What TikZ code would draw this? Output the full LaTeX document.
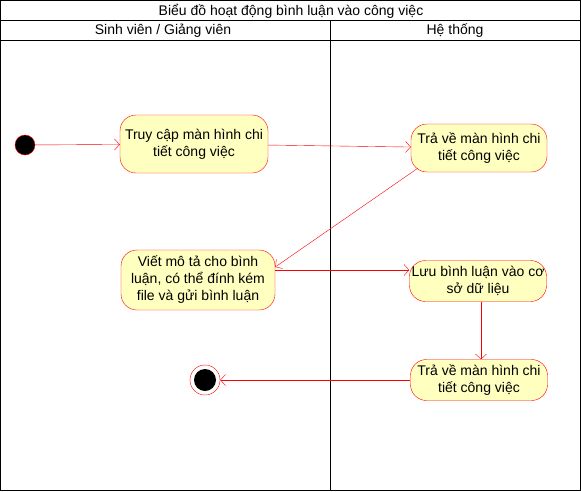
\documentclass[tikz,border=0pt]{standalone}
\usepackage{fontspec}
\setmainfont{Liberation Sans}
\usetikzlibrary{arrows.meta,positioning}
\definecolor{actred}{RGB}{255,0,0}
\definecolor{actfill}{RGB}{255,255,192}

\begin{document}
\begin{tikzpicture}[x=1pt, y=-1pt,
  font=\fontsize{14}{17}\selectfont,
  activity/.style={draw=actred, fill=actfill, rounded corners=16pt, align=center, inner sep=0pt},
  flow/.style={draw=actred, -{Straight Barb[length=5pt,width=11pt]}},
  lane/.style={draw=black, line width=0.8pt}]
\useasboundingbox (0,0) rectangle (581,491);

% swimlanes
\draw[lane] (0.5,0.5) rectangle (580.5,490.5);
\draw[lane] (0.5,20.5) -- (580.5,20.5);
\draw[lane] (0.5,40.5) -- (580.5,40.5);
\draw[lane] (330.5,20.5) -- (330.5,490.5);
\node (title) at (291,11) {Biểu đồ hoạt động bình luận vào công việc};
\node (laneA) at (163,31) {Sinh viên / Giảng viên};
\node (laneB) at (455,31) {Hệ thống};

% activities
\node[circle, draw=actred, fill=black, minimum size=20pt, inner sep=0pt] (start) at (25,145) {};
\node[activity, minimum width=148pt, minimum height=58pt] (access) at (194,144) {Truy cập màn hình chi\\tiết công việc};
\node[activity, minimum width=136pt, minimum height=48pt] (show) at (479,148) {Trả về màn hình chi\\tiết công việc};
\node[activity, minimum width=154pt, minimum height=60pt] (write) at (198,280) {Viết mô tả cho bình\\luận, có thể đính kém\\file và gửi bình luận};
\node[activity, minimum width=137pt, minimum height=41pt] (save) at (478,281) {Lưu bình luận vào cơ\\sở dữ liệu};
\node[activity, minimum width=137pt, minimum height=41pt] (back) at (479,380) {Trả về màn hình chi\\tiết công việc};
\node[circle, draw=actred, fill=white, minimum size=30pt, inner sep=0pt] (end) at (205,380) {};
\node[circle, fill=black, minimum size=22pt, inner sep=0pt] (endin) at (end) {};

% flows
\draw[flow] (start) -- (access);
\draw[flow] (access) -- (show);
\draw[flow] ([xshift=7pt,yshift=4pt]show.south west) -- ([yshift=13pt]write.east);
\draw[flow] ([yshift=10pt]write.east) -- ([yshift=11pt]save.west);
\draw[flow] ([xshift=3pt]save.south) -- ([xshift=2pt]back.north);
\draw[flow] (back) -- (end);
\end{tikzpicture}
\end{document}
